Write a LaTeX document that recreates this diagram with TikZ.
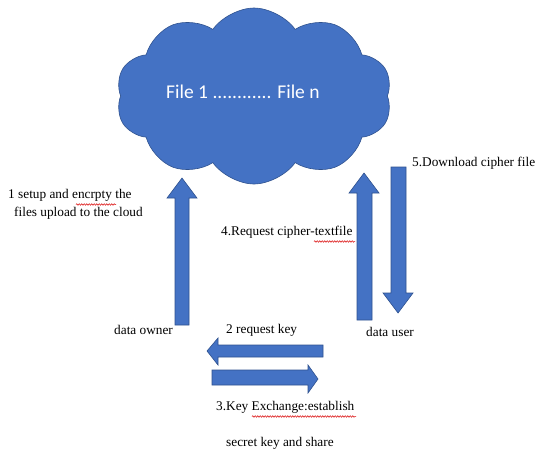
\documentclass[tikz,border=0pt]{standalone}
\usepackage{fontspec}
\setmainfont{Liberation Serif}
\newfontfamily\cloudfont{Carlito}
\usetikzlibrary{shapes.symbols,decorations.pathmorphing}
\definecolor{offblue}{RGB}{68,114,196}
\definecolor{offedge}{RGB}{47,82,143}
\tikzset{
  blockarrow/.style={fill=offblue,draw=offedge,line width=0.6pt,line join=miter},
  lbl/.style={font=\fontsize{13.3}{15}\selectfont,inner sep=0pt,anchor=west},
  spell/.style={draw=red!85!black,line width=0.5pt,decorate,decoration={snake,amplitude=0.8pt,segment length=2.5pt}}
}
\begin{document}
\begin{tikzpicture}[x=1pt,y=-1pt]
\useasboundingbox[fill=white] (0,0) rectangle (538,453);
% cloud
\node[cloud, cloud puffs=10, cloud puff arc=110, aspect=1.6, fill=offblue, draw=offedge, line width=0.6pt,
      minimum width=276pt, minimum height=176pt, inner sep=0pt] (cloud) at (254,96) {};
\node[text=white, font=\cloudfont\fontsize{19.5}{22}\selectfont] (files) at (243,92) {File 1 ............ File n};
% arrow 1 up (data owner -> cloud)
\draw[blockarrow] (175,325) -- (175,198) -- (167,198) -- (182,178) -- (197,198) -- (189,198) -- (189,325) -- cycle;
% arrow 4 up (data user -> cloud)
\draw[blockarrow] (357,320) -- (357,193) -- (349,193) -- (364,173) -- (379,193) -- (372,193) -- (372,320) -- cycle;
% arrow 5 down (cloud -> data user)
\draw[blockarrow] (391,167) -- (391,293) -- (383,293) -- (398,313) -- (413,293) -- (406,293) -- (406,167) -- cycle;
% arrow 2 left
\draw[blockarrow] (323,345) -- (218,345) -- (218,338) -- (207,351) -- (218,365) -- (218,357) -- (323,357) -- cycle;
% arrow 3 right
\draw[blockarrow] (212,370) -- (308,370) -- (308,365) -- (318,379) -- (308,393) -- (308,385) -- (212,385) -- cycle;
% labels
\node[lbl] (l1a) at (8,195) {1 setup and encrpty the};
\node[lbl] (l1b) at (14,213) {files upload to the cloud};
\node[lbl] (owner) at (114,330) {data owner};
\node[lbl] (l4) at (221,232) {4.Request cipher-textfile};
\node[lbl] (l5) at (412,163) {5.Download cipher file};
\node[lbl] (user) at (366,332) {data user};
\node[lbl] (l2) at (226,330) {2 request key};
\node[lbl] (l3a) at (216,407) {3.Key Exchange:establish};
\node[lbl] (l3b) at (226,443) {secret key and share};
% spell-check underlines
\draw[spell] (76,204.5) -- (116,204.5);
\draw[spell] (314,241.5) -- (355,241.5);
\draw[spell] (252,416.5) -- (356,416.5);
\end{tikzpicture}
\end{document}
